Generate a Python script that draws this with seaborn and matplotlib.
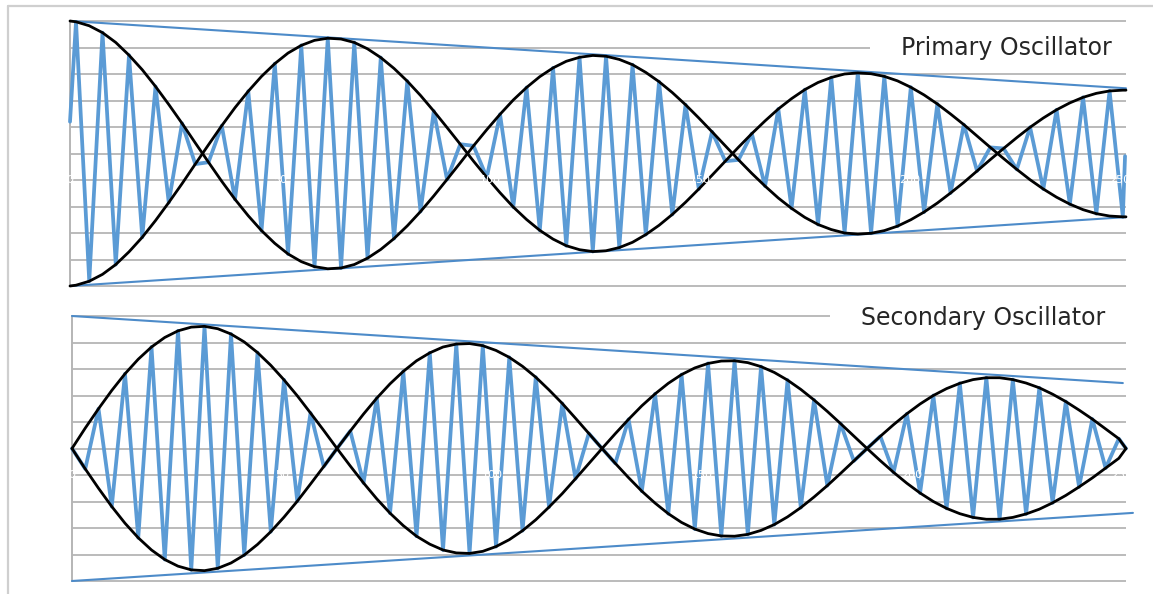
import numpy as np
import matplotlib
matplotlib.use("Agg")
import matplotlib.pyplot as plt
import seaborn as sns
from matplotlib.lines import Line2D
from matplotlib.patches import Rectangle

# ---------------- data ----------------
x_tick_values = [0, 50, 100, 150, 200, 250]
x_tick_labels = ["0", "50", "100", "150", "200", "250"]
grid_levels = list(range(-5, 6))

half_period = 3.155            # time between successive extrema
primary_first_time = 1.43      # time of first primary extremum
secondary_first_time = 3.155   # time of first secondary extremum

# primary oscillator: successive extrema (peak / trough values)
primary_extrema = [
    4.97, -4.82, 4.56, -4.19, 3.71, -3.16, 2.53, -1.85, 1.14, -0.40,
    -0.33, 1.05, -1.73, 2.35, -2.91, 3.39, -3.79, 4.08, -4.27, 4.35,
    -4.32, 4.19, -3.95, 3.62, -3.21, 2.73, -2.19, 1.60, -0.98, 0.35,
    0.29, -0.90, 1.48, -2.02, 2.49, -2.90, 3.23, -3.48, 3.63, -3.70,
    3.67, -3.55, 3.35, -3.06, 2.71, -2.30, 1.84, -1.34, 0.82, -0.29,
    -0.24, 0.75, -1.23, 1.68, -2.07, 2.41, -2.68, 2.87, -3.00, 3.04,
    -3.01, 2.91, -2.74, 2.50, -2.21, 1.87, -1.49, 1.09, -0.66, 0.23,
    0.19, -0.60, 0.99, -1.34, 1.65, -1.91, 2.12, -2.27, 2.36, -2.39,
]
primary_edge_time = [0.0, 251.2]
primary_edge_value = [1.2, -0.1]
primary_env_edge_time = [0.0, 251.43]
primary_env_edge_value = [5.0, 2.39]
primary_decay_time = [0.0, 251.43]
primary_decay_upper = [5.0, 2.46]
primary_decay_lower = [-5.0, -2.40]

# secondary oscillator: successive extrema
secondary_extrema = [
    -0.77, 1.50, -2.19, 2.82, -3.37, 3.83, -4.19, 4.44, -4.58, 4.61,
    -4.52, 4.32, -4.02, 3.62, -3.14, 2.59, -1.99, 1.34, -0.68, 0.00,
    0.66, -1.30, 1.90, -2.44, 2.91, -3.31, 3.61, -3.83, 3.94, -3.96,
    3.88, -3.70, 3.44, -3.10, 2.69, -2.21, 1.70, -1.14, 0.57, 0.00,
    -0.56, 1.10, -1.61, 2.06, -2.46, 2.79, -3.04, 3.21, -3.30, 3.31,
    -3.24, 3.09, -2.87, 2.58, -2.23, 1.83, -1.40, 0.94, -0.47, 0.00,
    0.46, -0.90, 1.31, -1.68, 2.00, -2.26, 2.46, -2.60, 2.67, -2.67,
    2.60, -2.47, 2.29, -2.05, 1.77, -1.45, 1.11, -0.74, 0.37,
]
secondary_edge_time = [0.0, 250.95]
secondary_edge_value = [0.0, 0.0]
secondary_env_edge_time = [0.0, 250.95]
secondary_env_edge_value = [0.0, 0.0]
secondary_decay_upper_time = [0.0, 250.2]
secondary_decay_upper = [5.0, 2.47]
secondary_decay_lower_time = [0.0, 252.6]
secondary_decay_lower = [-5.0, -2.43]

panel_titles = ["Primary Oscillator", "Secondary Oscillator"]

# ---------------- styling ----------------
sns.set_style("white")
plt.rcParams["font.family"] = ["DejaVu Sans"]

BLUE = "#5b9bd5"
BLUE_LINE = "#4d8bc9"
GRID = "#b5b5b5"
FRAME = "#cfcfcf"

W, H = 1153, 594
fig = plt.figure(figsize=(W / 100, H / 100), dpi=100)
fig.patch.set_facecolor("white")

ax1 = fig.add_axes([70 / W, (H - 286) / H, 1056 / W, 265 / H])
ax2 = fig.add_axes([72 / W, (H - 581) / H, 1054 / W, 265 / H])


def build(first_time, extrema, edge_t, edge_v, env_edge_t, env_edge_v, sign0):
    ext = np.asarray(extrema, dtype=float)
    n = len(ext)
    t_ext = first_time + half_period * np.arange(n)
    t = np.concatenate([[edge_t[0]], t_ext, [edge_t[1]]])
    v = np.concatenate([[edge_v[0]], ext, [edge_v[1]]])
    alt = sign0 * (-1.0) ** np.arange(n)
    te = np.concatenate([[env_edge_t[0]], t_ext, [env_edge_t[1]]])
    env = np.concatenate([[env_edge_v[0]], alt * ext, [env_edge_v[1]]])
    return t, v, te, env


def style_axes(ax, xmax):
    ax.set_xlim(0, xmax)
    ax.set_ylim(-5, 5)
    for lv in grid_levels:
        ax.axhline(lv, color=GRID, lw=1.3, zorder=0, clip_on=False,
                   solid_capstyle="butt")
    ax.set_yticks(grid_levels)
    ax.set_xticks([])
    ax.tick_params(axis="y", length=3.5, width=1.2, color=GRID,
                   labelleft=False, direction="out")
    for s in ["top", "right", "bottom"]:
        ax.spines[s].set_visible(False)
    ax.spines["left"].set_color(GRID)
    ax.spines["left"].set_linewidth(1.4)
    ax.set_facecolor("white")
    ax.set_xlabel("")
    ax.set_ylabel("")
    for v, lab in zip(x_tick_values, x_tick_labels):
        ax.text(v, -1, lab, color="white", ha="center", va="center",
                fontsize=8, zorder=8)


line_kw = dict(sort=False, estimator=None, legend=False, clip_on=False,
               solid_joinstyle="round", solid_capstyle="round")


def draw_panel(ax, t, v, te, env, up_t, up_v, lo_t, lo_v):
    sns.lineplot(x=t, y=v, ax=ax, color=BLUE, lw=2.7, zorder=3, **line_kw)
    sns.lineplot(x=up_t, y=up_v, ax=ax, color=BLUE_LINE, lw=1.5, zorder=4,
                 **line_kw)
    sns.lineplot(x=lo_t, y=lo_v, ax=ax, color=BLUE_LINE, lw=1.5, zorder=4,
                 **line_kw)
    sns.lineplot(x=te, y=env, ax=ax, color="black", lw=2.0, zorder=5, **line_kw)
    sns.lineplot(x=te, y=-env, ax=ax, color="black", lw=2.0, zorder=5,
                 **line_kw)


# ---- primary panel ----
t, v, te, env = build(primary_first_time, primary_extrema, primary_edge_time,
                      primary_edge_value, primary_env_edge_time,
                      primary_env_edge_value, 1.0)
draw_panel(ax1, t, v, te, env, primary_decay_time, primary_decay_upper,
           primary_decay_time, primary_decay_lower)
style_axes(ax1, 251.43)
ax1.add_patch(Rectangle((0.7576, 0.853), 0.26, 0.094, transform=ax1.transAxes,
                        facecolor="white", edgecolor="none", zorder=1,
                        clip_on=False))
ax1.text(0.9867, 0.899, panel_titles[0], transform=ax1.transAxes, ha="right",
         va="center", fontsize=17, color="#262626", zorder=9)

# ---- secondary panel ----
t, v, te, env = build(secondary_first_time, secondary_extrema,
                      secondary_edge_time, secondary_edge_value,
                      secondary_env_edge_time, secondary_env_edge_value, -1.0)
draw_panel(ax2, t, v, te, env, secondary_decay_upper_time,
           secondary_decay_upper, secondary_decay_lower_time,
           secondary_decay_lower)
style_axes(ax2, 250.95)
ax2.add_patch(Rectangle((0.719, 0.943), 0.30, 0.10, transform=ax2.transAxes,
                        facecolor="white", edgecolor="none", zorder=1,
                        clip_on=False))
ax2.text(0.980, 0.9925, panel_titles[1], transform=ax2.transAxes, ha="right",
         va="center", fontsize=17, color="#262626", zorder=9)

# ---- outer frame ----
fig.add_artist(Line2D([8 / W, 1.0], [1 - 6 / H, 1 - 6 / H], color=FRAME, lw=1.6,
                      transform=fig.transFigure))
fig.add_artist(Line2D([8 / W, 8 / W], [0.0, 1 - 6 / H], color=FRAME, lw=1.6,
                      transform=fig.transFigure))

fig.savefig("out.png", dpi=100, facecolor="white")
